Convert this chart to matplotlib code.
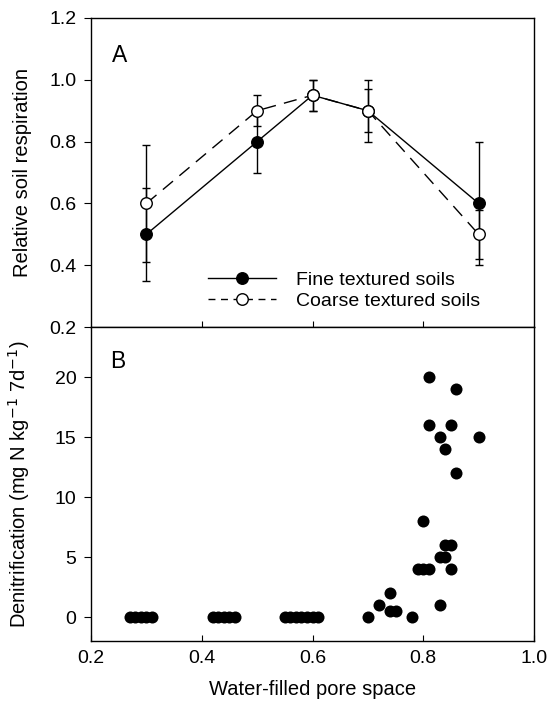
import matplotlib
matplotlib.use("Agg")
import matplotlib.pyplot as plt
from matplotlib.lines import Line2D

plt.rcParams['font.family'] = ['Liberation Sans', 'DejaVu Sans']

# Panel A data
wfps = [0.3, 0.5, 0.6, 0.7, 0.9]
fine = [0.5, 0.8, 0.95, 0.9, 0.6]
fine_err = [0.15, 0.1, 0.05, 0.1, 0.2]
coarse = [0.6, 0.9, 0.95, 0.9, 0.5]
coarse_err = [0.19, 0.05, 0.05, 0.07, 0.08]

# Panel B data
den_x = [0.27, 0.28, 0.29, 0.30, 0.31,
         0.42, 0.43, 0.44, 0.45, 0.46,
         0.55, 0.56, 0.57, 0.58, 0.59, 0.60, 0.61,
         0.70, 0.72, 0.74, 0.74, 0.75, 0.78, 0.83,
         0.79, 0.80, 0.81, 0.85,
         0.83, 0.84, 0.84, 0.85,
         0.80, 0.86, 0.84, 0.83, 0.90, 0.81, 0.85, 0.86, 0.81]
den_y = [0, 0, 0, 0, 0,
         0, 0, 0, 0, 0,
         0, 0, 0, 0, 0, 0, 0,
         0, 1, 2, 0.5, 0.5, 0, 1,
         4, 4, 4, 4,
         5, 5, 6, 6,
         8, 12, 14, 15, 15, 16, 16, 19, 20]

fig = plt.figure(figsize=(5.49, 7.03), dpi=100)
L, R = 91/549, 534/549
axA = fig.add_axes([L, 1-327/703, R-L, (327-18)/703])
axB = fig.add_axes([L, 1-641/703, R-L, (641-327)/703])

fs = 14
dash = (0, (9.5, 6))
# Panel A
axA.errorbar(wfps, fine, yerr=fine_err, color='black', lw=1, marker='o', ms=8.3,
             mfc='black', mec='black', capsize=3, elinewidth=1, capthick=1, zorder=3)
axA.errorbar(wfps, coarse, yerr=coarse_err, color='black', lw=1, ls=dash,
             marker='o', ms=8.3, mfc='white', mec='black', capsize=3, elinewidth=1,
             capthick=1, zorder=4)
axA.set_xlim(0.2, 1.0)
axA.set_ylim(0.2, 1.2)
axA.set_yticks([0.2, 0.4, 0.6, 0.8, 1.0, 1.2])
axA.set_yticklabels(['0.2', '0.4', '0.6', '0.8', '1.0', '1.2'])
axA.set_xticks([0.4, 0.6, 0.8])
axA.tick_params(axis='x', direction='in', labelbottom=False, length=4)
axA.tick_params(axis='y', direction='out', length=5, labelsize=fs, pad=5.5)
axA.set_ylabel('Relative soil respiration', fontsize=14.5)
axA.text(0.047, 0.858, 'A', transform=axA.transAxes, fontsize=16.5)
handles = [Line2D([], [], color='black', lw=1, marker='o', ms=8.3, mfc='black', mec='black'),
           Line2D([], [], color='black', lw=1, ls=(0, (5, 4)), marker='o', ms=8.3,
                  mfc='white', mec='black')]
axA.legend(handles, ['Fine textured soils', 'Coarse textured soils'],
           loc='center left', bbox_to_anchor=(0.265, 0.118), frameon=False,
           fontsize=fs, handlelength=3.5, handletextpad=1.0, labelspacing=0.15,
           borderpad=0, borderaxespad=0)

# Panel B
axB.scatter(den_x, den_y, s=75, color='black', zorder=3, linewidths=0)
axB.set_xlim(0.2, 1.0)
axB.set_ylim(-2, 24.2)
axB.set_yticks([0, 5, 10, 15, 20])
axB.set_xticks([0.2, 0.4, 0.6, 0.8, 1.0])
axB.set_xticklabels(['0.2', '0.4', '0.6', '0.8', '1.0'])
axB.tick_params(axis='y', direction='out', length=5, labelsize=fs, pad=5.5)
axB.tick_params(axis='x', direction='in', length=4, labelsize=fs, pad=6.5)
axB.set_ylabel('Denitrification (mg N kg$^{-1}$ 7d$^{-1}$)', fontsize=14.5)
axB.set_xlabel('Water-filled pore space', fontsize=14.5, labelpad=9)
axB.text(0.043, 0.869, 'B', transform=axB.transAxes, fontsize=16.5)

for ax in (axA, axB):
    for s in ax.spines.values():
        s.set_linewidth(1)
axA.yaxis.set_label_coords(-0.133, 0.5)
axB.yaxis.set_label_coords(-0.133, 0.5)

fig.savefig('out.png', dpi=100)
